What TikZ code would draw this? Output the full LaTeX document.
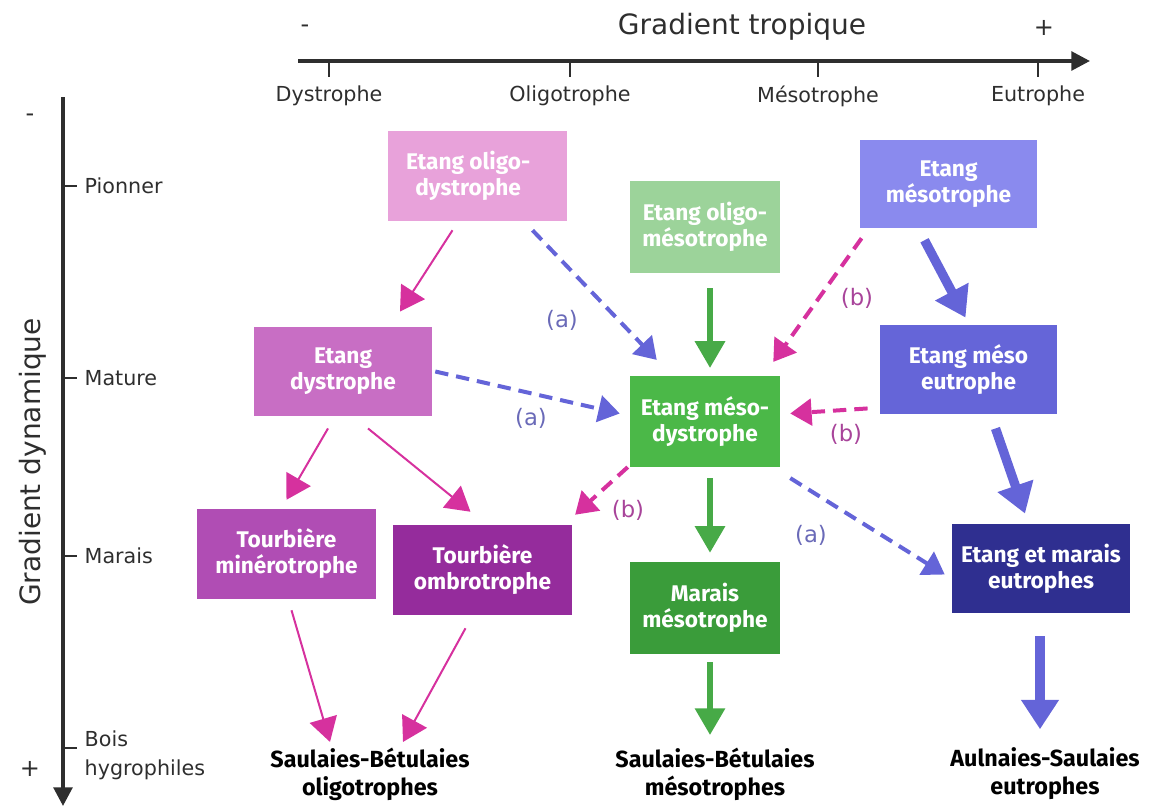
\documentclass[tikz,border=0pt]{standalone}
\usepackage{fontspec}
\setmainfont{DejaVu Sans}
\newfontfamily\boxfont{Fira Sans}
\usetikzlibrary{arrows.meta,calc}
\definecolor{axisc}{HTML}{2E2E2E}
\definecolor{cOD}{HTML}{E8A2DA}
\definecolor{cD}{HTML}{C86EC4}
\definecolor{cTM}{HTML}{B04DB4}
\definecolor{cTO}{HTML}{952C9C}
\definecolor{cOM}{HTML}{9CD39A}
\definecolor{cMD}{HTML}{4BB848}
\definecolor{cMM}{HTML}{3A9C3A}
\definecolor{cM}{HTML}{8A8AEE}
\definecolor{cME}{HTML}{6565D8}
\definecolor{cEU}{HTML}{2F2F90}
\definecolor{magA}{HTML}{D6319E}
\definecolor{bluA}{HTML}{6464D8}
\definecolor{grnA}{HTML}{47AA47}
\definecolor{labA}{HTML}{6A6AB8}
\definecolor{labB}{HTML}{A8449A}
\tikzset{
  bx/.style={inner sep=0pt, align=center, text=white, font=\boxfont\bfseries\fontsize{17}{19.5}\selectfont},
  endtxt/.style={align=center, text=black, font=\boxfont\bfseries\fontsize{17.5}{21}\selectfont},
  axlab/.style={font=\fontsize{15.5}{17}\selectfont, text=axisc},
  magthin/.style={draw=magA, line width=1.5pt, -{Triangle[length=18pt,width=21pt]}},
  magdash/.style={draw=magA, line width=3pt, dash pattern=on 10pt off 6pt, -{Triangle[length=16pt,width=20pt]}},
  bludash/.style={draw=bluA, line width=3pt, dash pattern=on 10pt off 6pt, -{Triangle[length=16pt,width=20pt]}},
  grnarr/.style={draw=grnA, line width=4pt, -{Triangle[length=20pt,width=22pt]}},
  bluthick/.style={draw=bluA, line width=7pt, -{Triangle[length=22pt,width=27pt]}},
  laba/.style={text=labA, font=\fontsize{17}{19}\selectfont},
  labb/.style={text=labB, font=\fontsize{17}{19}\selectfont},
}
\begin{document}
\begin{tikzpicture}[x=0.75pt, y=-0.75pt]
\useasboundingbox (0,0) rectangle (1152,810);
% top axis
\coordinate (tA) at (298,61);
\coordinate (tB) at (1090,61);
\draw[axisc, line width=2.8pt, -{Triangle[length=14pt,width=14pt]}] (tA) -- (tB);
\foreach \x/\t in {329/Dystrophe, 570/Oligotrophe, 818/Mésotrophe, 1038/Eutrophe}{
  \draw[axisc, line width=1pt] (\x,61) -- (\x,77);
  \node[axlab] at (\x,96) {\t};
}
\node[font=\fontsize{18}{20}\selectfont, text=axisc] (tminus) at (305,29) {-};
\node[font=\fontsize{21}{23}\selectfont, text=axisc] (ttitle) at (742,27) {Gradient tropique};
\node[font=\fontsize{18}{20}\selectfont, text=axisc] (tplus) at (1044,28) {+};
% left axis
\coordinate (lA) at (63,97);
\coordinate (lB) at (63,806);
\draw[axisc, line width=2.8pt, -{Triangle[length=14pt,width=14pt]}] (lA) -- (lB);
\foreach \y/\t in {186/Pionner, 378/Mature, 556/Marais}{
  \draw[axisc, line width=1pt] (63,\y) -- (77,\y);
  \node[axlab, anchor=west] at (80,\y) {\t};
}
\draw[axisc, line width=1pt] (63,748) -- (77,748);
\node[axlab, anchor=west, align=left, font=\fontsize{15.5}{22}\selectfont] (bois) at (80,755) {Bois\\hygrophiles};
\node[font=\fontsize{18}{20}\selectfont, text=axisc] (lminus) at (30,118) {-};
\node[font=\fontsize{18}{20}\selectfont, text=axisc] (lplus) at (30,769) {+};
\node[font=\fontsize{21}{23}\selectfont, text=axisc, rotate=90] (ltitle) at (33,462) {Gradient dynamique};
% boxes
\node[bx, fill=cOD, minimum width=134pt, minimum height=67.5pt] (od) at (477.5,176) {Etang oligo-\hspace*{14pt}\\dystrophe\hspace*{14pt}};
\node[bx, fill=cOM, minimum width=112.5pt, minimum height=69pt] (om) at (705,227) {Etang oligo-\\mésotrophe};
\node[bx, fill=cM, minimum width=133pt, minimum height=66pt] (m) at (948.5,184) {Etang\\mésotrophe};
\node[bx, fill=cD, minimum width=133.5pt, minimum height=67pt] (d) at (343,371.5) {Etang\\dystrophe};
\node[bx, fill=cMD, minimum width=112.5pt, minimum height=68pt] (md) at (705,421.5) {Etang méso-\\dystrophe};
\node[bx, fill=cME, minimum width=133pt, minimum height=67pt] (me) at (968.5,369.5) {Etang méso\\eutrophe};
\node[bx, fill=cTM, minimum width=134pt, minimum height=67.5pt] (tm) at (286.5,554) {Tourbière\\minérotrophe};
\node[bx, fill=cTO, minimum width=134pt, minimum height=67.5pt] (to) at (482.5,570) {Tourbière\\ombrotrophe};
\node[bx, fill=cMM, minimum width=112.5pt, minimum height=69pt] (mm) at (705,608) {Marais\\mésotrophe};
\node[bx, fill=cEU, minimum width=133.5pt, minimum height=67pt] (eu) at (1041,568.5) {Etang et marais\\eutrophes};
\node[endtxt] (so) at (370,774) {Saulaies-Bétulaies\\oligotrophes};
\node[endtxt] (sm) at (715,774) {Saulaies-Bétulaies\\mésotrophes};
\node[endtxt] (as) at (1045,774) {Aulnaies-Saulaies\\eutrophes};
% magenta thin
\draw[magthin] ($(od.south)+(-25,9)$) -- ($(d.north)+(57,-15)$);
\draw[magthin] ($(d.south)+(-15,12)$) -- ($(tm.north)+(0,-9)$);
\draw[magthin] ($(d.south)+(25,12)$) -- ($(to.north)+(-12,-13)$);
\draw[magthin] ($(tm.south)+(5,11)$) -- ($(so.north)+(-40,-1)$);
\draw[magthin] ($(to.south)+(-17,13)$) -- ($(so.north)+(33,-1)$);
% magenta dashed (b)
\draw[magdash] ($(m.south west)+(2,10)$) -- ($(md.north east)+(-7,-14)$);
\draw[magdash] ($(me.south west)+(-12,-6)$) -- ($(md.east)+(10,-8)$);
\draw[magdash] ($(md.south west)+(-2,0)$) -- ($(to.north east)+(3,-10)$);
\node[labb] (lb1) at (857,298) {(b)};
\node[labb] (lb2) at (846,434) {(b)};
\node[labb] (lb3) at (628,510) {(b)};
% blue dashed (a)
\draw[bludash] ($(od.south)+(55,9)$) -- ($(md.north west)+(27,-16)$);
\draw[bludash] ($(d.east)+(3,0)$) -- ($(md.west)+(-10,-8)$);
\draw[bludash] ($(md.south east)+(10,11)$) -- ($(eu.west)+(-7,6)$);
\node[laba] (la1) at (562,320) {(a)};
\node[laba] (la2) at (531,418) {(a)};
\node[laba] (la3) at (811,535) {(a)};
% green
\draw[grnarr] ($(om.south)+(5,15)$) -- ($(md.north)+(5,-8)$);
\draw[grnarr] ($(md.south)+(5,11)$) -- ($(mm.north)+(5,-9)$);
\draw[grnarr] ($(mm.south)+(5,8)$) -- ($(sm.north)+(-5,-8)$);
% blue thick
\draw[bluthick] ($(m.south)+(-24,12)$) -- ($(me.north)+(-3,-7)$);
\draw[bluthick] ($(me.south)+(27,14)$) -- ($(eu.north)+(-16,-10)$);
\draw[bluthick] ($(eu.south)+(-1,23)$) -- ($(as.north)+(-5,-14)$);
\end{tikzpicture}
\end{document}
